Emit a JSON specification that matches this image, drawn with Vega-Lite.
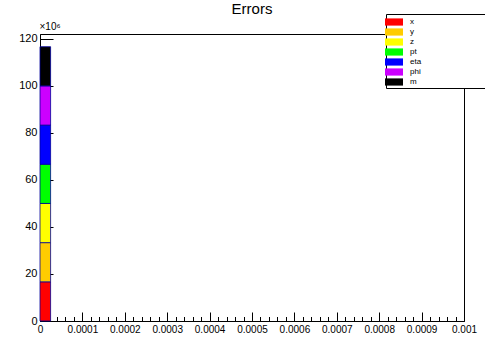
{
  "$schema": "https://vega.github.io/schema/vega-lite/v6.json",
  "width": 424,
  "height": 287,
  "autosize": "none",
  "padding": {"left": 40, "top": 34, "right": 21, "bottom": 16},
  "background": "white",
  "config": {
    "font": "Liberation Sans",
    "view": {"stroke": "black", "strokeWidth": 1}
  },
  "title": {
    "text": "Errors",
    "fontSize": 15,
    "fontWeight": "normal",
    "font": "Liberation Sans",
    "color": "black",
    "frame": "group",
    "anchor": "middle",
    "baseline": "alphabetic",
    "offset": 0,
    "dy": 15
  },
  "data": {
    "values": [
      {"var": "x", "order": 1, "start": 0, "end": 0.000025, "value": 16.67},
      {"var": "y", "order": 2, "start": 0, "end": 0.000025, "value": 16.67},
      {"var": "z", "order": 3, "start": 0, "end": 0.000025, "value": 16.67},
      {"var": "pt", "order": 4, "start": 0, "end": 0.000025, "value": 16.67},
      {"var": "eta", "order": 5, "start": 0, "end": 0.000025, "value": 16.67},
      {"var": "phi", "order": 6, "start": 0, "end": 0.000025, "value": 16.67},
      {"var": "m", "order": 7, "start": 0, "end": 0.000025, "value": 16.67}
    ]
  },
  "transform": [
    {"stack": "value", "groupby": ["start"], "sort": [{"field": "order", "order": "ascending"}], "as": ["y0", "y1"]}
  ],
  "resolve": {"axis": {"x": "independent", "y": "independent"}},
  "layer": [
    {
      "mark": {"type": "bar", "stroke": "#000099", "strokeWidth": 0.8},
      "encoding": {
        "x": {
          "field": "start", "type": "quantitative",
          "scale": {"domain": [0, 0.001], "nice": false, "zero": false},
          "axis": {
            "orient": "bottom",
            "title": null,
            "values": [0, 0.0001, 0.0002, 0.0003, 0.0004, 0.0005, 0.0006, 0.0007, 0.0008, 0.0009, 0.001],
            "format": ".4~f",
            "tickSize": -9,
            "tickColor": "black",
            "domainColor": "black",
            "labelFontSize": 10,
            "labelColor": "black",
            "labelPadding": 12,
            "labelFlush": false,
            "labelOverlap": false,
            "grid": false
          }
        },
        "x2": {"field": "end"},
        "y": {
          "field": "y0", "type": "quantitative",
          "scale": {"domain": [0, 122.1], "nice": false, "zero": true},
          "axis": {
            "orient": "left",
            "title": "×10⁶",
            "titleAngle": 0,
            "titleAlign": "left",
            "titleBaseline": "alphabetic",
            "titleX": -1,
            "titleY": -5,
            "titleFontSize": 10,
            "titleFontWeight": "normal",
            "titleColor": "black",
            "values": [0, 20, 40, 60, 80, 100, 120],
            "tickSize": -13,
            "tickColor": "black",
            "domainColor": "black",
            "labelFontSize": 11,
            "labelColor": "black",
            "labelPadding": 16,
            "labelFlush": false,
            "grid": false
          }
        },
        "y2": {"field": "y1"},
        "fill": {
          "field": "var", "type": "nominal",
          "sort": ["x", "y", "z", "pt", "eta", "phi", "m"],
          "scale": {
            "domain": ["x", "y", "z", "pt", "eta", "phi", "m"],
            "range": ["#ff0000", "#ffcc00", "#ffff00", "#00ff00", "#0000ff", "#cc00ff", "#000000"]
          },
          "legend": {
            "title": "mmmmmmmm",
            "titleOrient": "right",
            "titleFontSize": 8,
            "titleColor": "white",
            "titleOpacity": 0,
            "titlePadding": 6,
            "orient": "none",
            "legendX": 346,
            "legendY": -20,
            "fillColor": "white",
            "strokeColor": "black",
            "padding": 2,
            "symbolType": "M-1.5,-0.6H1.5V0.6H-1.5Z",
            "symbolSize": 144,
            "symbolStrokeWidth": 0,
            "symbolOpacity": 1,
            "labelFontSize": 8,
            "labelColor": "black",
            "labelLimit": 200,
            "rowPadding": 0,
            "labelOffset": 10
          }
        }
      }
    },
    {
      "mark": {"type": "point", "opacity": 0},
      "encoding": {
        "x": {
          "field": "start", "type": "quantitative",
          "axis": {
            "orient": "bottom",
            "title": null,
            "values": [0.00002, 0.00004, 0.00006, 0.00008, 0.00012, 0.00014, 0.00016, 0.00018, 0.00022, 0.00024, 0.00026, 0.00028, 0.00032, 0.00034, 0.00036, 0.00038, 0.00042, 0.00044, 0.00046, 0.00048, 0.00052, 0.00054, 0.00056, 0.00058, 0.00062, 0.00064, 0.00066, 0.00068, 0.00072, 0.00074, 0.00076, 0.00078, 0.00082, 0.00084, 0.00086, 0.00088, 0.00092, 0.00094, 0.00096, 0.00098],
            "labels": false,
            "domain": false,
            "tickSize": -4.5,
            "tickColor": "black",
            "grid": false
          }
        },
        "y": {
          "field": "y1", "type": "quantitative",
          "axis": {
            "orient": "left",
            "title": null,
            "values": [5, 10, 15, 25, 30, 35, 45, 50, 55, 65, 70, 75, 85, 90, 95, 105, 110, 115],
            "labels": false,
            "domain": false,
            "tickSize": -6.5,
            "tickColor": "black",
            "grid": false
          }
        }
      }
    }
  ]
}
